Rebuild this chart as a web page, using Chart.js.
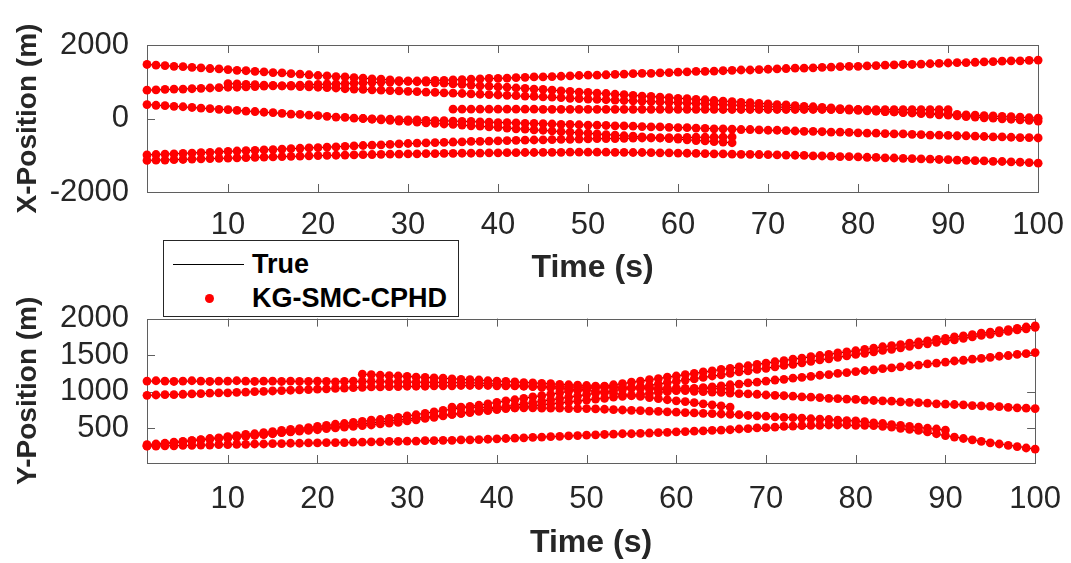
<!DOCTYPE html>
<html>
<head>
<meta charset="utf-8">
<script src="https://cdn.jsdelivr.net/npm/chart.js@4.4.0/dist/chart.umd.min.js"></script>
<style>
  body { margin: 0; background: #fff; }
  #wrap { position: relative; width: 1071px; height: 563px; overflow: hidden;
          font-family: "Liberation Sans", Arial, Helvetica, sans-serif; }
  #wrap canvas { position: absolute; left: 0; }
  #legend { position: absolute; left: 163px; top: 240px; width: 294px; height: 75px;
            background: #fff; border: 1px solid #262626; z-index: 2; }
  #legend .lbl { position: absolute; left: 88px; font-weight: bold; font-size: 27px;
                 line-height: 30px; color: #000; white-space: nowrap; }
  #legend .line { position: absolute; left: 9px; top: 23px; width: 71px; border-top: 1.5px solid #000; }
  #legend .dot { position: absolute; left: 41px; top: 53px; width: 9px; height: 9px;
                 border-radius: 50%; background: #ff0000; }
</style>
</head>
<body>
<div id="wrap">
  <canvas id="xChart" width="1071" height="290" style="top:0px"></canvas>
  <canvas id="yChart" width="1071" height="273" style="top:290px"></canvas>
  <div id="legend">
    <span class="line"></span><span class="lbl" style="top:8px">True</span>
    <span class="dot"></span><span class="lbl" style="top:42px">KG-SMC-CPHD</span>
  </div>
</div>
<script>
// tick labels
const timeTicks = [10, 20, 30, 40, 50, 60, 70, 80, 90, 100];
const xPosTicks = [-2000, 0, 2000];
const yPosTicks = [500, 1000, 1500, 2000];

// first time step of each target (A..H)
const birthTimes = [1, 1, 10, 35, 25, 1, 1, 1];

// estimated X position per second
const xPosA = [1470,1450,1440,1420,1410,1390,1380,1360,1350,1330,
  1310,1300,1280,1270,1250,1240,1220,1210,1190,1170,
  1160,1140,1130,1110,1100,1080,1070,1050,1030,1020,
  1000,990,970,960,940,930,910,890,880,860,
  850,830,820,800,790,770,750,740,720,710,
  690,680,660,650,630,610,600,580,570,550,
  540,520,510,490,470,460,440,430,410,400,
  380,370,350,330,320,300,290,270,260,240,
  230,210,190,180,160,150,130,120,100,90,
  70,50,40,20,10,-10,-20,-40,-50,-70];
const xPosB = [770,780,790,800,800,810,820,830,840,850,
  850,860,870,880,890,890,900,910,920,930,
  940,940,950,960,970,980,990,990,1000,1010,
  1020,1030,1040,1040,1050,1060,1070,1080,1090,1090,
  1100,1110,1120,1130,1130,1140,1150,1160,1170,1180,
  1180,1190,1200,1210,1220,1230,1230,1240,1250,1260,
  1270,1280,1280,1290,1300,1310,1320,1320,1330,1340,
  1350,1360,1370,1370,1380,1390,1400,1410,1420,1420,
  1430,1440,1450,1460,1470,1470,1480,1490,1500,1510,
  1520,1520,1530,1540,1550,1560,1570,1570,1580,1590];
const xPosC = [950,940,930,920,910,900,890,880,870,860,
  850,840,830,810,800,790,780,770,760,750,
  740,730,720,710,700,690,680,670,660,650,
  640,630,620,610,600,590,580,570,550,540,
  530,520,510,500,490,480,470,460,450,440,
  430,420,410,400,390,380,370,360,350,340,
  330,320,310,300,280,270,260,250,240,230,
  220,210,200,190,180,170,160,150,140,130,
  120,110,100,90,80,70,60,50,40,20,
  10];
const xPosD = [255,255,255,255,255,255,255,255,255,255,
  250,250,250,250,250,250,250,250,250,250,
  250,250,250,250,250,250,250,250,250,250,
  245,245,245,245,245,245,245,245,245,245,
  245,245,245,245,245,245,
  240,240,240,240,240,240,240,240,240,240];
const xPosE = [0,-10,-10,-20,-30,-40,-40,-50,-60,-60,
  -70,-80,-80,-90,-100,-110,-110,-120,-130,-130,
  -140,-150,-160,-160,-170,-180,-180,-190,-200,-200,
  -210,-220,-230,-230,-240,-250,-250,-260,-270,-280,
  -280,-290,-300,-300,-310,-320,-320,-330,-340,-350,
  -350,-360,-370,-370,-380,-390,-400,-400,-410,-420,
  -420,-430,-440,-450,-450,-460,-470,-470,-480,-490,
  -500,-500,-510,-520,-520,-530];
const xPosF = [380,360,350,330,320,300,280,270,250,240,
  220,200,190,170,160,140,120,110,90,80,
  60,40,30,10,0,-20,-40,-50,-70,-80,
  -100,-120,-130,-150,-160,-180,-200,-210,-230,-240,
  -260,-280,-290,-310,-320,-340,-360,-370,-390,-400,
  -420,-440,-450,-470,-480,-500,-520,-530,-550,-560,
  -580,-600,-610,-630,-640,-660];
const xPosG = [-990,-980,-970,-960,-950,-940,-930,-920,-905,-895,
  -885,-875,-865,-855,-845,-835,-820,-810,-800,-790,
  -780,-770,-760,-745,-735,-725,-715,-705,-690,-680,
  -670,-665,-655,-650,-640,-635,-625,-620,-615,-610,
  -600,-595,-590,-585,-580,-575,-570,-565,-560,-555,
  -550,-545,-545,-540,-535,-530,-530,-525,-520,-520,
  -515,-510,-510,-505,-505,-500];
const xPosH = [-1140,-1135,-1130,-1120,-1115,-1105,-1100,-1090,-1085,-1080,
  -1070,-1065,-1060,-1050,-1045,-1035,-1030,-1025,-1015,-1010,
  -1005,-1000,-995,-990,-985,-980,-975,-970,-970,-965,
  -960,-955,-955,-950,-950,-945,-945,-940,-935,-935,
  -930,-930,-925,-925,-920,-920,-920,-915,-915,-915,
  -915,-915,-920,-920,-925,-925,-930,-935,-935,-940,
  -945,-950,-955,-960,-965,-970,-975,-975,-980,-985,
  -990,-995,-1000,-1005,-1015,-1020,-1025,-1035,-1040,-1045,
  -1055,-1060,-1070,-1075,-1085,-1090,-1100,-1105,-1115,-1120,
  -1130,-1140,-1145,-1155,-1165,-1170,-1180,-1190,-1200,-1215];

// estimated Y position per second
const yPosA = [260,275,290,300,315,330,345,360,370,385,
  400,415,425,440,455,470,485,495,510,525,
  540,555,565,580,595,610,620,635,650,670,
  685,705,725,745,760,780,800,815,835,855,
  875,890,910,930,945,965,985,1005,1020,1040,
  1060,1075,1095,1110,1130,1145,1165,1180,1200,1215,
  1235,1250,1270,1285,1305,1320,1340,1355,1375,1390,
  1410,1425,1445,1460,1480,1495,1510,1530,1545,1560,
  1580,1595,1615,1630,1645,1665,1680,1695,1715,1730,
  1750,1765,1780,1800,1815,1835,1850,1865,1885,1900];
const yPosB = [275,285,295,310,320,330,340,350,360,375,
  385,395,405,415,425,440,450,460,470,480,
  495,505,515,525,535,545,560,570,580,600,
  615,635,650,670,690,705,725,745,760,780,
  795,815,835,850,870,890,905,925,940,960,
  980,995,1015,1030,1050,1070,1085,1105,1125,1140,
  1160,1175,1195,1215,1230,1250,1270,1285,1305,1320,
  1340,1360,1375,1395,1415,1435,1450,1470,1490,1510,
  1525,1545,1565,1580,1600,1620,1640,1655,1675,1695,
  1710,1730,1750,1770,1785,1805,1825,1845,1860,1880];
const yPosC = [365,380,390,405,415,430,445,455,470,480,
  495,510,520,535,545,560,575,585,600,610,
  625,640,650,665,675,690,705,715,730,740,
  755,770,780,795,805,820,835,845,860,870,
  885,900,910,925,935,950,965,975,990,1000,
  1015,1030,1040,1055,1065,1080,1095,1105,1120,1130,
  1145,1160,1170,1185,1195,1210,1225,1235,1250,1260,
  1275,1290,1300,1315,1325,1340,1355,1365,1380,1390,
  1405,1420,1430,1445,1455,1470,1485,1495,1510,1520,
  1535];
const yPosD = [790,790,785,785,785,785,780,780,780,780,
  775,775,775,770,770,770,
  765,760,755,750,745,740,735,730,725,720,
  715,710,705,700,695,690,
  685,675,670,665,655,650,645,640,630,625,
  620,610,605,600,
  590,575,565,550,540,525,515,500,490,475];
const yPosE = [1240,1235,1225,1220,1215,1210,1200,1195,1190,1185,
  1175,1170,1165,1160,1150,1145,1140,1135,1125,1120,
  1115,1110,1100,1095,1090,1085,1075,1070,1065,1055,
  1050,1045,1040,1030,1025,1020,1015,1005,1000,995,
  990,980,975,970,965,955,950,945,940,930,
  925,920,910,905,900,895,885,880,875,870,
  860,855,850,845,835,830,825,820,810,805,
  800,795,785,780,775,770];
const yPosF = [1145,1150,1145,1140,1145,1150,1145,1140,1145,1145,
  1150,1145,1140,1145,1145,1140,1145,1140,1140,1145,
  1140,1135,1140,1145,1140,1140,1140,1135,1135,1135,
  1130,1130,1130,1130,1125,1125,1120,1120,1110,1105,
  1095,1085,1080,1070,1060,1055,1045,1035,1030,1020,
  1005,990,975,960,945,935,920,905,890,875,
  865,850,835,820,805,790];
const yPosG = [950,955,960,960,965,970,975,980,985,985,
  990,995,1000,1005,1010,1015,1020,1025,1030,1035,
  1040,1045,1050,1055,1060,1065,1065,1070,1070,1075,
  1075,1075,1080,1080,1080,1085,1085,1085,1085,1080,
  1080,1080,1075,1075,1070,1070,1070,1065,1065,1060,
  1060,1060,1055,1055,1055,1055,1050,1050,1050,1050,
  1045,1045,1045,1045,1040,1040];
const yPosH = [255,255,260,260,265,265,270,270,275,275,
  280,280,285,285,290,290,295,295,300,300,
  305,305,305,310,310,315,315,320,320,325,
  325,330,330,335,335,340,340,345,350,355,
  360,365,370,375,380,385,390,395,400,405,
  410,415,420,425,425,430,435,440,445,450,
  455,460,465,470,475,480,490,495,505,510,
  515,525,530,535,540,540,545,545,545,540,
  540,535,525,515,500,485,470,450,425,400,
  380,360,340,320,300,285,265,250,230,215];

// true trajectories: [time, position] corner points
const trueXA = [[1,1470],[100,-70]];
const trueXB = [[1,770],[100,1590]];
const trueXC = [[10,950],[100,10]];
const trueXD = [[35,255],[90,240]];
const trueXE = [[25,0],[100,-530]];
const trueXF = [[1,380],[66,-660]];
const trueXG = [[1,-990],[21,-780],[29,-690],[40,-610],[51,-550],[66,-500]];
const trueXH = [[1,-1140],[21,-1005],[31,-960],[50,-915],[60,-940],[71,-990],[85,-1085],[100,-1215]];
const trueYA = [[1,260],[29,650],[50,1040],[71,1410],[100,1900]];
const trueYB = [[1,275],[29,580],[50,960],[71,1340],[100,1880]];
const trueYC = [[10,365],[100,1535]];
const trueYD = [[35,790],[50,770],[66,690],[80,600],[90,475]];
const trueYE = [[25,1240],[100,770]];
const trueYF = [[1,1145],[25,1140],[38,1120],[50,1020],[66,790]];
const trueYG = [[1,950],[10,985],[25,1060],[38,1085],[50,1060],[66,1040]];
const trueYH = [[1,255],[25,310],[38,345],[50,405],[66,480],[78,545],[84,515],[90,400],[100,215]];

const xEstimates = [xPosA, xPosB, xPosC, xPosD, xPosE, xPosF, xPosG, xPosH];
const yEstimates = [yPosA, yPosB, yPosC, yPosD, yPosE, yPosF, yPosG, yPosH];
const xTruths = [trueXA, trueXB, trueXC, trueXD, trueXE, trueXF, trueXG, trueXH];
const yTruths = [trueYA, trueYB, trueYC, trueYD, trueYE, trueYF, trueYG, trueYH];

const textColor = '#262626';
const fontFamily = '"Liberation Sans", Arial, sans-serif';
const tickFont = { family: fontFamily, size: 31 };
const xTitleFont = { family: fontFamily, size: 32, weight: 'bold' };
const yTitleFont = { family: fontFamily, size: 28, weight: 'bold' };

function buildDatasets(estimates, truths) {
  const sets = [];
  estimates.forEach((vals, k) => {
    sets.push({
      data: vals.map((v, i) => ({ x: birthTimes[k] + i, y: v })),
      showLine: false,
      pointRadius: 4.4,
      pointBackgroundColor: '#ff0000',
      pointBorderWidth: 0,
      clip: false,
      order: 0
    });
  });
  truths.forEach(path => {
    sets.push({
      data: path.map(p => ({ x: p[0], y: p[1] })),
      showLine: true,
      borderColor: '#000000',
      borderWidth: 1,
      pointRadius: 0,
      order: 1
    });
  });
  return sets;
}

// MATLAB style box with inward ticks
const boxPlugin = {
  id: 'boxPlugin',
  beforeDatasetsDraw(chart) {
    const { ctx, chartArea: a, scales } = chart;
    const len = 8;
    ctx.save();
    ctx.strokeStyle = '#5f5f5f';
    ctx.lineWidth = 1;
    ctx.beginPath();
    scales.x.ticks.forEach(t => {
      const px = Math.round(scales.x.getPixelForValue(t.value)) + 0.5;
      ctx.moveTo(px, a.bottom); ctx.lineTo(px, a.bottom - len);
      ctx.moveTo(px, a.top); ctx.lineTo(px, a.top + len);
    });
    scales.y.ticks.forEach(t => {
      const py = Math.round(scales.y.getPixelForValue(t.value)) + 0.5;
      ctx.moveTo(a.left, py); ctx.lineTo(a.left + len, py);
      ctx.moveTo(a.right, py); ctx.lineTo(a.right - len, py);
    });
    ctx.stroke();
    ctx.strokeRect(Math.round(a.left) + 0.5, Math.round(a.top) + 0.5,
                   Math.round(a.right - a.left), Math.round(a.bottom - a.top));
    ctx.restore();
  }
};

function panelOptions(cfg) {
  return {
    responsive: false,
    animation: false,
    devicePixelRatio: 1,
    layout: { padding: { top: cfg.padTop, right: 32, left: 0, bottom: 0 } },
    plugins: { legend: { display: false }, tooltip: { enabled: false } },
    scales: {
      x: {
        type: 'linear', min: 1, max: 100,
        grid: { display: false }, border: { display: false },
        afterBuildTicks: s => { s.ticks = timeTicks.map(v => ({ value: v })); },
        afterFit: s => { s.height = cfg.xHeight; },
        ticks: { font: tickFont, color: textColor, padding: cfg.xTickPad, autoSkip: false,
                 maxRotation: 0, callback: v => String(v) },
        title: { display: true, text: 'Time (s)', font: xTitleFont, color: textColor,
                 padding: { top: 0, bottom: cfg.xTitlePad } }
      },
      y: {
        type: 'linear', min: cfg.yMin, max: cfg.yMax,
        grid: { display: false }, border: { display: false },
        afterBuildTicks: s => { s.ticks = cfg.yTicks.map(v => ({ value: v })); },
        afterFit: s => { s.width = 147; },
        ticks: { font: tickFont, color: textColor, padding: 10, autoSkip: false,
                 callback: v => String(v) },
        title: { display: true, text: cfg.yTitle, font: yTitleFont, color: textColor,
                 padding: { top: 11, bottom: 0 } }
      }
    }
  };
}

new Chart(document.getElementById('xChart'), {
  type: 'scatter',
  data: { datasets: buildDatasets(xEstimates, xTruths) },
  options: panelOptions({ padTop: 45, xHeight: 98, xTickPad: 7, xTitlePad: 3,
                          yMin: -2000, yMax: 2000, yTicks: xPosTicks, yTitle: 'X-Position (m)' }),
  plugins: [boxPlugin]
});

new Chart(document.getElementById('yChart'), {
  type: 'scatter',
  data: { datasets: buildDatasets(yEstimates, yTruths) },
  options: panelOptions({ padTop: 28, xHeight: 100, xTickPad: 10, xTitlePad: 1,
                          yMin: 25, yMax: 2000, yTicks: yPosTicks, yTitle: 'Y-Position (m)' }),
  plugins: [boxPlugin]
});
</script>
</body>
</html>
